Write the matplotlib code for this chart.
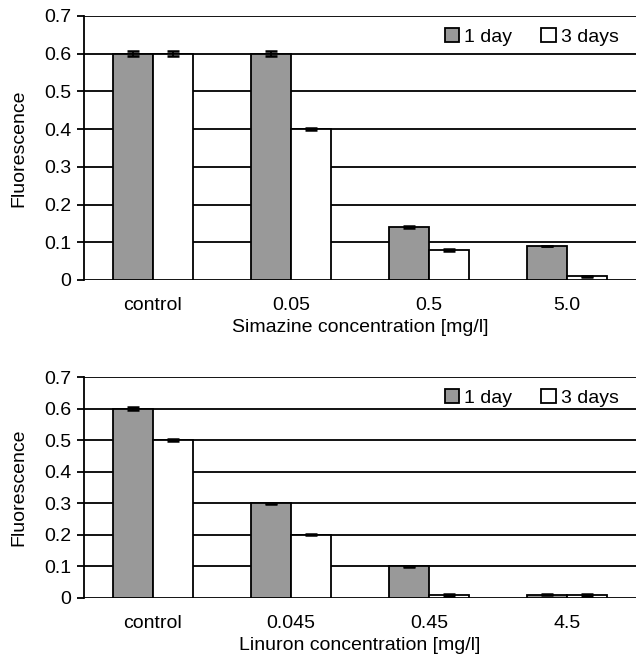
import numpy as np
import matplotlib
matplotlib.use("Agg")
import matplotlib.pyplot as plt
from matplotlib.patches import Patch

plt.rcParams['font.family'] = ['Liberation Sans', 'DejaVu Sans']

sim_labels = ["control", "0.05", "0.5", "5.0"]
sim_day1 = [0.60, 0.60, 0.14, 0.09]
sim_day1_err = [0.006, 0.006, 0.002, 0.001]
sim_day3 = [0.60, 0.40, 0.08, 0.01]
sim_day3_err = [0.006, 0.002, 0.002, 0.001]

lin_labels = ["control", "0.045", "0.45", "4.5"]
lin_day1 = [0.60, 0.30, 0.10, 0.01]
lin_day1_err = [0.005, 0.002, 0.001, 0.002]
lin_day3 = [0.50, 0.20, 0.01, 0.01]
lin_day3_err = [0.004, 0.002, 0.003, 0.003]

series_names = ["1 day", "3 days"]
FS = 14


def draw_panel(ax, labels, d1, e1, d3, e3, xlabel):
    x = np.arange(len(labels))
    w = 0.29
    ax.set_axisbelow(True)
    ax.yaxis.grid(True, color="black", lw=1.3)
    ax.bar(x - w / 2, d1, w, color="#999999", edgecolor="black", lw=1.3, zorder=2)
    ax.bar(x + w / 2, d3, w, color="white", edgecolor="black", lw=1.3, zorder=2)
    ax.errorbar(x - w / 2, d1, yerr=e1, fmt="none", ecolor="black",
                elinewidth=1.3, capsize=4.5, capthick=1.8, zorder=3)
    ax.errorbar(x + w / 2, d3, yerr=e3, fmt="none", ecolor="black",
                elinewidth=1.3, capsize=4.5, capthick=1.8, zorder=3)
    ax.set_xlim(-0.5, len(labels) - 0.5)
    ax.set_ylim(0, 0.7)
    ax.set_yticks(np.arange(0, 0.71, 0.1))
    ax.set_yticklabels(["0"] + ["%.1f" % v for v in np.arange(0.1, 0.71, 0.1)])
    ax.set_xticks(x)
    ax.set_xticklabels(labels)
    ax.tick_params(axis="x", length=0, pad=12, labelsize=FS)
    ax.tick_params(axis="y", length=5, width=1.3, labelsize=FS, pad=4)
    for s in ["top", "right", "bottom"]:
        ax.spines[s].set_visible(False)
    ax.spines["left"].set_linewidth(1.3)
    ax.set_xlabel(xlabel, fontsize=FS, labelpad=4)
    ax.set_ylabel("Fluorescence", fontsize=FS, labelpad=12)
    handles = [Patch(facecolor="#999999", edgecolor="black", lw=1.3),
               Patch(facecolor="white", edgecolor="black", lw=1.3)]
    ax.legend(handles, series_names, loc="upper right", ncol=2, frameon=False,
              fontsize=FS, handlelength=0.75, handleheight=0.75, handletextpad=0.25,
              columnspacing=1.5, borderaxespad=0.2, bbox_to_anchor=(0.99, 1.0))


fig = plt.figure(figsize=(6.36, 6.65), dpi=100)
ax1 = fig.add_axes([0.132, 0.579, 0.868, 0.397])
ax2 = fig.add_axes([0.132, 0.101, 0.868, 0.332])

draw_panel(ax1, sim_labels, sim_day1, sim_day1_err, sim_day3, sim_day3_err,
           "Simazine concentration [mg/l]")
draw_panel(ax2, lin_labels, lin_day1, lin_day1_err, lin_day3, lin_day3_err,
           "Linuron concentration [mg/l]")

fig.savefig("out.png", dpi=100)
